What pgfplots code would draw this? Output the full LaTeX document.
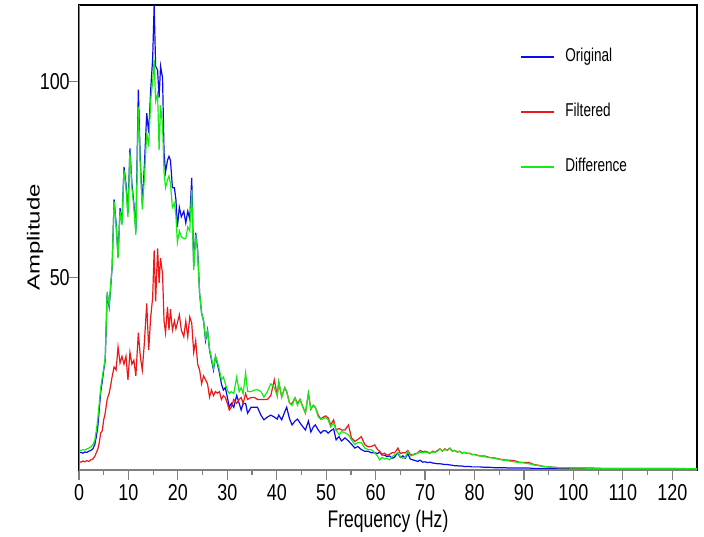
\documentclass[border=0pt]{standalone}
\usepackage{fontspec}
\setmainfont{Liberation Sans}
\usepackage{pgfplots}
\usepackage{pgfplotstable}
\pgfplotsset{compat=1.18}
\definecolor{cblue}{RGB}{10,10,235}
\definecolor{cred}{RGB}{235,25,25}
\definecolor{cgreen}{RGB}{20,235,20}
\definecolor{spine}{RGB}{128,128,128}
\pgfplotstableread{
f O F D
0.0 5.4 3.1 5.9
0.4 5.5 3.0 6.0
0.8 5.3 3.3 6.2
1.2 5.6 3.1 6.1
1.6 5.5 3.4 6.4
2.0 5.8 3.2 6.6
2.4 6.0 3.6 6.9
2.8 6.4 3.8 7.4
3.2 7.5 4.5 8.6
3.5 9.5 5.4 11.0
3.8 12.0 6.3 14.0
4.1 16.5 8.0 18.0
4.4 21.0 10.5 22.0
4.7 23.5 11.0 24.5
5.0 26.5 13.8 27.0
5.3 29.0 15.5 29.5
5.7 46.0 19.0 46.5
6.1 42.6 20.6 43.0
6.4 47.5 22.5 48.0
6.7 52.8 24.8 53.0
7.1 70.0 27.3 69.5
7.5 64.0 26.5 63.5
7.9 55.4 32.4 55.0
8.3 67.8 28.3 67.0
8.7 64.0 30.0 63.5
9.1 78.3 28.0 77.5
9.5 74.0 30.0 73.0
9.9 66.5 24.0 65.5
10.3 83.0 31.0 82.0
10.7 74.0 28.0 73.0
11.1 69.0 29.0 68.0
11.5 62.0 25.0 61.0
12.0 98.0 36.0 93.7
12.4 80.0 30.0 78.5
12.8 69.0 26.5 67.5
13.2 78.0 33.0 75.0
13.7 92.0 43.5 87.0
14.1 87.0 31.6 83.5
14.5 98.0 40.0 95.4
14.9 106.0 45.0 100.0
15.2 119.5 57.0 105.6
15.5 104.0 44.0 95.0
15.9 103.0 57.5 97.0
16.2 96.0 48.7 82.6
16.5 104.0 55.0 94.0
16.9 101.0 51.0 89.0
17.2 82.0 39.0 77.0
17.5 77.0 36.0 73.0
17.9 80.0 42.6 75.0
18.2 81.0 36.7 76.0
18.5 80.0 42.0 74.0
18.9 73.0 36.7 68.0
19.3 73.0 39.0 69.0
19.6 70.0 37.0 66.0
19.9 63.0 38.5 59.0
20.3 68.0 40.6 62.0
20.7 65.6 36.7 60.5
21.2 67.0 35.0 60.0
21.6 64.0 39.0 60.0
22.0 67.0 35.0 63.0
22.4 65.0 40.0 62.0
22.8 75.5 38.5 72.4
23.2 53.0 31.0 52.0
23.6 61.5 34.0 61.0
24.0 57.0 28.0 56.5
24.4 46.0 26.5 46.0
24.8 41.0 23.0 41.0
25.2 39.0 25.0 39.0
25.6 34.0 24.0 34.5
26.0 36.7 23.0 36.5
26.4 31.6 19.6 31.8
26.8 29.0 21.4 29.5
27.2 26.5 20.0 27.0
27.6 30.0 21.0 30.0
28.0 28.0 20.6 28.5
28.4 25.8 21.0 26.5
28.8 23.0 19.0 24.0
29.2 21.4 20.0 24.7
29.6 22.0 19.5 23.0
30.0 19.6 18.0 21.4
30.4 17.0 16.3 20.5
30.8 18.0 17.0 21.0
31.3 17.0 19.0 20.5
31.9 20.0 18.0 24.7
32.4 18.0 19.0 21.0
32.8 16.3 19.5 22.0
33.2 18.0 18.0 20.5
33.7 18.0 20.5 25.8
34.1 15.5 19.0 21.0
34.8 17.0 19.5 21.0
35.5 17.0 19.5 21.4
36.1 17.0 19.0 21.5
36.8 15.0 19.0 21.0
37.4 13.8 19.0 19.6
38.1 14.5 19.0 21.0
38.8 15.0 20.0 23.0
39.5 14.5 24.0 22.0
40.1 14.0 20.0 20.0
40.4 15.0 23.5 23.5
41.0 13.8 19.6 19.6
41.6 15.8 22.0 22.0
42.0 17.0 21.0 21.0
42.6 14.0 18.0 18.0
43.1 12.5 18.0 17.5
43.7 13.5 19.4 19.4
44.2 14.0 18.0 17.5
44.7 13.0 19.0 19.0
45.3 12.0 17.0 17.0
45.8 11.2 15.5 15.5
46.4 13.5 20.6 20.6
46.9 10.7 16.5 16.5
47.4 12.0 17.5 17.5
47.8 12.5 17.0 17.0
48.4 11.2 15.0 14.5
48.9 10.4 14.0 14.0
49.4 11.0 14.5 14.0
49.9 11.0 14.8 14.5
50.4 10.4 14.3 13.8
50.9 11.0 12.5 12.0
51.5 11.5 13.8 13.0
52.0 8.7 11.2 11.2
52.6 9.5 11.6 10.0
53.1 8.4 11.2 10.8
53.8 9.2 11.2 10.5
54.5 8.4 12.5 10.0
55.1 7.6 9.2 8.7
55.8 6.6 8.3 7.5
56.4 7.0 8.8 8.0
57.1 6.2 9.5 8.0
57.8 5.8 7.5 6.6
58.5 5.8 6.9 6.2
59.1 5.4 7.0 6.2
59.8 5.4 7.4 5.4
60.4 5.2 6.2 4.5
60.8 5.6 5.8 3.6
61.3 4.8 5.0 4.2
61.8 4.8 5.3 3.8
62.3 4.4 4.8 4.0
62.8 4.6 5.0 3.6
63.3 4.0 5.4 4.4
63.8 4.2 5.4 4.8
64.2 5.0 6.0 5.2
64.5 5.3 6.6 5.5
65.0 4.2 5.2 4.4
65.5 4.6 5.4 4.0
66.0 4.0 5.4 4.2
66.5 5.2 6.0 5.8
67.0 3.8 5.0 4.6
67.5 3.6 4.8 4.8
68.0 3.4 5.2 5.0
68.5 3.2 5.3 5.3
69.0 3.5 6.0 5.5
69.5 3.0 5.6 5.4
70.0 3.1 5.8 5.6
70.5 2.9 5.6 5.4
71.0 3.0 5.2 5.3
71.5 2.8 5.8 5.6
72.0 2.7 5.5 5.5
72.5 2.6 6.0 5.8
73.0 2.6 6.4 6.4
73.5 2.5 5.8 5.9
74.0 2.4 6.4 6.2
74.5 2.4 6.0 6.1
75.0 2.3 6.6 6.5
75.5 2.2 5.8 5.8
76.0 2.1 6.0 6.0
76.5 2.1 5.6 5.6
77.0 2.0 5.8 5.7
77.5 2.0 5.3 5.4
78.0 1.9 5.5 5.5
78.5 1.9 5.2 5.3
79.0 1.9 5.3 5.2
79.5 1.8 4.9 5.0
80.0 1.8 5.0 4.9
81.0 1.8 4.6 4.6
82.0 1.7 4.6 4.4
83.0 1.7 4.2 4.2
84.0 1.6 4.1 4.0
85.0 1.6 3.8 3.7
86.0 1.6 3.6 3.5
87.0 1.5 3.5 3.3
88.0 1.5 3.4 3.1
89.0 1.5 3.0 2.9
90.0 1.5 2.9 2.8
91.0 1.5 2.9 2.6
92.0 1.4 2.4 2.3
93.0 1.4 2.2 2.1
94.0 1.4 1.9 1.9
95.0 1.4 1.8 1.8
96.0 1.4 1.7 1.7
97.0 1.4 1.6 1.6
98.0 1.4 1.6 1.6
100.0 1.4 1.5 1.5
102.0 1.3 1.5 1.5
104.0 1.3 1.5 1.4
106.0 1.3 1.4 1.4
108.0 1.3 1.4 1.4
110.0 1.3 1.4 1.4
112.0 1.3 1.4 1.4
114.0 1.3 1.4 1.4
116.0 1.3 1.4 1.4
118.0 1.3 1.4 1.4
120.0 1.3 1.4 1.4
122.0 1.3 1.4 1.3
124.0 1.3 1.3 1.3
125.0 1.3 1.3 1.3
}\spec
\begin{document}
\begin{tikzpicture}
\useasboundingbox (-39.5pt,-33pt) rectangle (312.5pt,235pt);
\begin{axis}[
  scale only axis, width=309pt, height=232.5pt,
  xmin=0, xmax=125, ymin=1, ymax=119.6,
  xtick={0,10,...,120}, minor x tick num=1,
  ytick={50,100},
  tick pos=left, tick align=outside,
  major tick length=5pt, minor tick length=2.5pt,
  axis line style={black, line width=0.7pt},
  tick style={spine, line width=0.6pt},
  ticklabel style={font=\fontsize{11.5}{13}\selectfont, xscale=0.78},
  yticklabel style={xshift=4pt},
  xticklabel style={yshift=1.5pt},
  /pgf/number format/assume math mode=true,
  xlabel={Frequency (Hz)}, ylabel={Amplitude},
  label style={font=\fontsize{12}{14}\selectfont},
  xlabel style={at={(axis description cs:0.5,-0.1097)}, anchor=center, xscale=0.73},
  ylabel style={at={(axis description cs:-0.0712,0.5)}, anchor=center, yscale=0.73},
  legend cell align=left,
  legend style={draw=none, fill=none, at={(axis description cs:0.7136,0.7703)}, anchor=west,
    inner sep=0pt, font=\fontsize{9.3}{11}\selectfont, row sep=18.5pt, column sep=5pt,
    nodes={inner sep=0pt, text height=7pt, text depth=2pt, xscale=0.73}},
  legend image code/.code={\draw[#1, line width=1pt] (0pt,0pt) -- (16.5pt,0pt);},
]
\addplot[cblue, line width=0.6pt] table[x=f, y=O] {\spec};
\addlegendentry{Original}
\addplot[cred, line width=0.6pt] table[x=f, y=F] {\spec};
\addlegendentry{Filtered}
\addplot[cgreen, line width=0.6pt] table[x=f, y=D] {\spec};
\addlegendentry{Difference}
\draw[spine, line width=0.9pt] (rel axis cs:0,1) -- (rel axis cs:0,0) -- (rel axis cs:1,0);
\end{axis}
\end{tikzpicture}
\end{document}
